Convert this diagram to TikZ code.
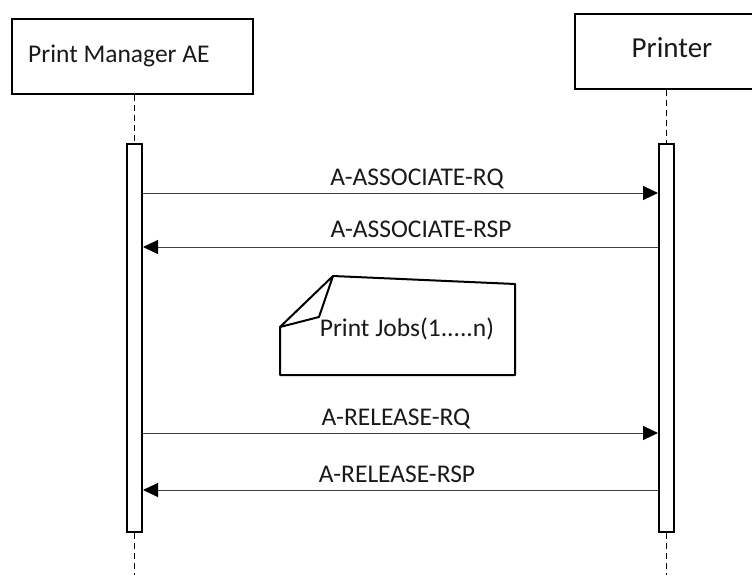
\documentclass[tikz,border=0pt]{standalone}
\usepackage{fontspec}
\setmainfont{Carlito}
\usetikzlibrary{calc, arrows.meta}

\begin{document}
\begin{tikzpicture}[x=1pt, y=-1pt,
		lifebox/.style={draw, line width=2pt, rectangle, minimum height=75pt, inner sep=0pt},
		actbar/.style={draw, line width=2pt, rectangle, minimum width=15pt, minimum height=388pt, inner sep=0pt},
		lifeline/.style={dash pattern=on 6pt off 4pt, line width=0.9pt},
		msg/.style={-{Triangle[length=15pt, width=14pt, black]}, line width=1pt, draw=black!75},
		msgtext/.style={font=\fontsize{25.5}{30}\selectfont, anchor=base, inner sep=0pt, text=black!90}
	]
	\def\txt{\fontsize{25.5}{30}\selectfont}
	\clip (0,0) rectangle (752,575);
	\coordinate (End) at (0,580);
	
	% Draw lifeline heads
	\node[lifebox, minimum width=241pt, anchor=north west] (PM) at (11,18) {};
	\node[anchor=base west, inner sep=0pt, font=\txt, text=black!90] (PMtext) at (28,63) {Print Manager AE};
	\node[lifebox, minimum width=190pt, anchor=north west] (PR) at (574,13) {};
	\node[anchor=base, inner sep=0pt, font=\fontsize{29}{34}\selectfont, text=black!90] (PRtext) at (672,58) {Printer};
	
	% Draw activation bars
	\node[actbar, anchor=north] (PMbar) at (134.5,143) {};
	\node[actbar, anchor=north] (PRbar) at (666.5,143) {};
	
	% Draw lifelines
	\draw[lifeline] (PMbar.north |- PM.south) -- (PMbar.north);
	\draw[lifeline] (PMbar.south) -- (PMbar.south |- End);
	\draw[lifeline] (PRbar.north |- PR.south) -- (PRbar.north);
	\draw[lifeline] (PRbar.south) -- (PRbar.south |- End);
	
	% Draw messages
	\coordinate (M1) at (0,193);
	\coordinate (M2) at (0,247);
	\coordinate (M3) at (0,433);
	\coordinate (M4) at (0,490);
	\draw[msg] (PMbar.east |- M1) -- (PRbar.west |- M1);
	\draw[msg] (PRbar.west |- M2) -- (PMbar.east |- M2);
	\draw[msg] (PMbar.east |- M3) -- (PRbar.west |- M3);
	\draw[msg] (PRbar.west |- M4) -- (PMbar.east |- M4);
	\node[msgtext] (L1) at (417,185) {A-ASSOCIATE-RQ};
	\node[msgtext] (L2) at (421,237) {A-ASSOCIATE-RSP};
	\node[msgtext] (L3) at (396,425) {A-RELEASE-RQ};
	\node[msgtext] (L4) at (397,482) {A-RELEASE-RSP};
	
	% Draw note
	\draw[line width=2pt, line join=round] (280,327) -- (333,276) -- (515,284) -- (515,375) -- (280,375) -- cycle;
	\draw[line width=2pt, line join=round] (280,327) -- (319,317) -- (333,276);
	\node[msgtext] (Note) at (407,336) {Print Jobs(1.....n)};
\end{tikzpicture}
\end{document}
